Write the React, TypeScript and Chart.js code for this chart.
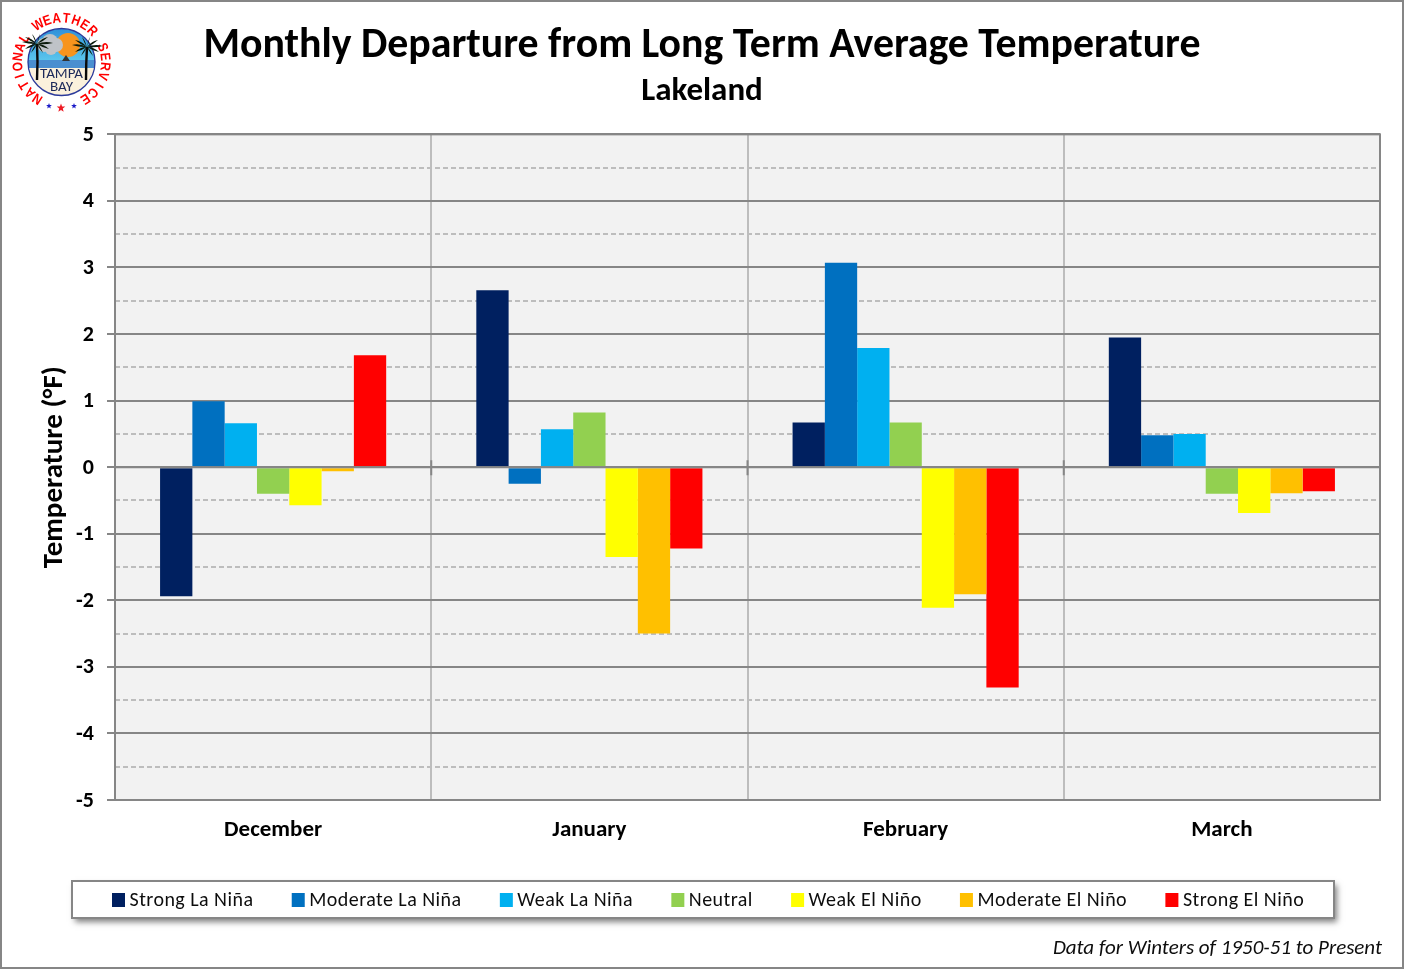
import React, { useEffect, useRef } from "react";
import { Chart, registerables } from "chart.js";

Chart.register(...registerables);

const months = ["December", "January", "February", "March"];
const strongLaNina = [-1.94, 2.66, 0.67, 1.95];
const moderateLaNina = [0.99, -0.25, 3.07, 0.48];
const weakLaNina = [0.66, 0.57, 1.79, 0.5];
const neutral = [-0.4, 0.82, 0.67, -0.4];
const weakElNino = [-0.57, -1.35, -2.11, -0.69];
const moderateElNino = [-0.06, -2.5, -1.91, -0.39];
const strongElNino = [1.68, -1.22, -3.31, -0.36];

const titleText = "Monthly Departure from Long Term Average Temperature";
const subtitleText = "Lakeland";
const yTitleText = "Temperature (°F)";
const footerText = "Data for Winters of 1950-51 to Present";
const logoRing = "NATIONAL WEATHER SERVICE";
const logoLines = ["TAMPA", "BAY"];

const FONT = "Carlito, Lato, sans-serif";
const DARK = "#868686";
const LIGHT = "#BDBDBD";

function palm(ctx: CanvasRenderingContext2D, x: number, y: number, bx: number, by: number, dir: number) {
  ctx.strokeStyle = "#0a0a0a";
  ctx.lineWidth = 2.4;
  ctx.beginPath();
  ctx.moveTo(x, y);
  ctx.quadraticCurveTo(x + dir * 1, (y + by) / 2, bx, by);
  ctx.stroke();
  ctx.fillStyle = "#0a1a0a";
  const fronds = [[-15, -2], [-12, -7], [-5, -10], [3, -10], [11, -7], [16, -1], [-12, 5], [12, 5], [-6, 9], [6, 9]];
  fronds.forEach(([dx, dy]) => {
    ctx.beginPath();
    ctx.moveTo(x, y);
    ctx.quadraticCurveTo(x + dx * 0.5, y + dy * 0.5 - 3, x + dx, y + dy);
    ctx.quadraticCurveTo(x + dx * 0.5, y + dy * 0.5 + 1.5, x, y);
    ctx.fill();
  });
}

function star(ctx: CanvasRenderingContext2D, x: number, y: number, r: number, color: string) {
  ctx.fillStyle = color;
  ctx.beginPath();
  for (let i = 0; i < 10; i++) {
    const a = -Math.PI / 2 + (i * Math.PI) / 5;
    const rr = i % 2 ? r * 0.42 : r;
    ctx.lineTo(x + rr * Math.cos(a), y + rr * Math.sin(a));
  }
  ctx.closePath();
  ctx.fill();
}

function drawLogo(ctx: CanvasRenderingContext2D) {
  const cx = 61.5;
  const cy = 62;
  const r = 33.5;
  ctx.save();

  ctx.save();
  ctx.beginPath();
  ctx.arc(cx, cy, r, 0, Math.PI * 2);
  ctx.clip();
  const sky = ctx.createLinearGradient(0, 28, 0, 62);
  sky.addColorStop(0, "#2F8FD8");
  sky.addColorStop(1, "#5CC8EE");
  ctx.fillStyle = sky;
  ctx.fillRect(cx - r, cy - r, 2 * r, 36);
  ctx.fillStyle = "#4A8FD0";
  ctx.fillRect(cx - r, 60, 2 * r, 8);
  ctx.fillStyle = "#FBF1DC";
  ctx.fillRect(cx - r, 68, 2 * r, 30);
  ctx.fillStyle = "#F7941D";
  ctx.beginPath();
  ctx.arc(68, 45, 12, 0, Math.PI * 2);
  ctx.fill();
  ctx.fillStyle = "#BFC3C8";
  [[44, 45, 7], [50, 42, 8], [56, 45, 7], [51, 49, 6]].forEach(([x, y, rr]) => {
    ctx.beginPath();
    ctx.arc(x, y, rr, 0, Math.PI * 2);
    ctx.fill();
  });
  ctx.fillStyle = "#333";
  ctx.beginPath();
  ctx.moveTo(62, 61);
  ctx.lineTo(66, 55);
  ctx.lineTo(70, 61);
  ctx.fill();
  ctx.restore();

  ctx.strokeStyle = "#2B3A9A";
  ctx.lineWidth = 1.3;
  ctx.beginPath();
  ctx.arc(cx, cy, r, 0, Math.PI * 2);
  ctx.stroke();

  ctx.fillStyle = "#FF0000";
  ctx.font = "bold 14px 'Liberation Sans', sans-serif";
  ctx.textAlign = "center";
  ctx.textBaseline = "alphabetic";
  const n = logoRing.length;
  const span = 294;
  for (let i = 0; i < n; i++) {
    const deg = -147 + (span * i) / (n - 1);
    const a = (deg * Math.PI) / 180;
    ctx.save();
    ctx.translate(cx + 39.5 * Math.sin(a), cy - 39.5 * Math.cos(a));
    ctx.rotate(a);
    ctx.scale(0.85, 1);
    ctx.fillText(logoRing[i], 0, 0);
    ctx.restore();
  }
  star(ctx, 49, 106, 3, "#1C1CC8");
  star(ctx, 61, 108, 4.5, "#EE1C25");
  star(ctx, 74, 106, 3, "#1C1CC8");

  palm(ctx, 37, 44, 37, 80, 1);
  palm(ctx, 87, 47, 86, 80, -1);

  ctx.fillStyle = "#1D2A5A";
  ctx.font = "15px " + FONT;
  ctx.textAlign = "center";
  ctx.textBaseline = "middle";
  ctx.fillText(logoLines[0], 61.5, 74.5);
  ctx.fillText(logoLines[1], 61.5, 87.5);
  ctx.restore();
}

const framePlugin = {
  id: "frame",
  beforeDraw(chart: any) {
    const { ctx, chartArea: a, width, height } = chart;
    ctx.save();
    ctx.fillStyle = "#FFFFFF";
    ctx.fillRect(0, 0, width, height);
    ctx.fillStyle = "#F2F2F2";
    ctx.fillRect(a.left, a.top, a.right - a.left, a.bottom - a.top);
    ctx.restore();
  },
  afterDatasetsDraw(chart: any) {
    const { ctx, chartArea: a, scales, width, height } = chart;
    const zero = scales.y.getPixelForValue(0);
    ctx.save();
    ctx.strokeStyle = DARK;
    ctx.lineWidth = 2;
    ctx.beginPath();
    ctx.moveTo(a.left, zero);
    ctx.lineTo(a.right, zero);
    months.slice(1).forEach((_, i) => {
      const x = (scales.x.getPixelForValue(i) + scales.x.getPixelForValue(i + 1)) / 2;
      ctx.moveTo(x, zero - 7);
      ctx.lineTo(x, zero + 8);
    });
    ctx.stroke();
    ctx.strokeRect(a.left, a.top, a.right - a.left, a.bottom - a.top);

    // legend panel and entries, from the chart's datasets
    const lx = 72, ly = 881, lw = 1262, lh = 37;
    ctx.save();
    ctx.shadowColor = "rgba(0,0,0,0.5)";
    ctx.shadowBlur = 6;
    ctx.shadowOffsetX = 3;
    ctx.shadowOffsetY = 4;
    ctx.fillStyle = "#FFFFFF";
    ctx.fillRect(lx, ly, lw, lh);
    ctx.restore();
    ctx.strokeStyle = DARK;
    ctx.lineWidth = 2;
    ctx.strokeRect(lx, ly, lw, lh);
    ctx.font = "20px " + FONT;
    ctx.textBaseline = "middle";
    ctx.textAlign = "left";
    (ctx as any).letterSpacing = "0.45px";
    let x = 112;
    chart.data.datasets.forEach((d: any) => {
      ctx.fillStyle = d.backgroundColor;
      ctx.fillRect(x, 893, 13, 14);
      ctx.fillStyle = "#0D0D0D";
      ctx.fillText(d.label, x + 17.5, 900.5);
      x += 17.5 + ctx.measureText(d.label).width + 38.3;
    });
    (ctx as any).letterSpacing = "0px";

    ctx.fillStyle = "#0D0D0D";
    ctx.font = "italic 21px " + FONT;
    ctx.textAlign = "right";
    ctx.fillText(footerText, 1382, 949);

    ctx.strokeStyle = DARK;
    ctx.lineWidth = 2;
    ctx.strokeRect(1, 1, width - 2, height - 3);
    drawLogo(ctx);
    ctx.restore();
  },
};

export default function App() {
  const ref = useRef<HTMLCanvasElement | null>(null);
  useEffect(() => {
    if (!ref.current) return;
    const series = [
      ["Strong La Niña", strongLaNina, "#002060"],
      ["Moderate La Niña", moderateLaNina, "#0070C0"],
      ["Weak La Niña", weakLaNina, "#00B0F0"],
      ["Neutral", neutral, "#92D050"],
      ["Weak El Niño", weakElNino, "#FFFF00"],
      ["Moderate El Niño", moderateElNino, "#FFC000"],
      ["Strong El Niño", strongElNino, "#FF0000"],
    ] as const;
    const isMajor = (v: number) => Math.abs(v - Math.round(v)) < 1e-6;
    const chart = new Chart(ref.current, {
      type: "bar",
      data: {
        labels: months,
        datasets: series.map(([label, data, color]) => ({
          label,
          data: [...data],
          backgroundColor: color,
          barPercentage: 1,
          categoryPercentage: 0.715,
        })),
      },
      plugins: [framePlugin],
      options: {
        responsive: false,
        animation: false,
        devicePixelRatio: 1,
        layout: { padding: { top: 23, right: 24, left: 24, bottom: 0 } },
        plugins: {
          legend: { display: false },
          tooltip: { enabled: false },
          title: {
            display: true,
            text: titleText,
            color: "#000000",
            font: { family: FONT, size: 41.8, weight: "bold", lineHeight: 1.15 },
            padding: { top: 0, bottom: 1 },
          },
          subtitle: {
            display: true,
            text: subtitleText,
            color: "#000000",
            font: { family: FONT, size: 33, weight: "bold", lineHeight: 1.2 },
            padding: { top: 0, bottom: 22.7 },
          },
        },
        scales: {
          x: {
            grid: { offset: true, color: LIGHT, lineWidth: 2, drawTicks: false },
            border: { display: false },
            ticks: {
              color: "#000000",
              font: { family: FONT, size: 23, weight: "bold" },
              padding: 16.5,
              autoSkip: false,
              maxRotation: 0,
            },
            afterFit(scale: any) {
              scale.height = 170;
            },
          },
          y: {
            min: -5,
            max: 5,
            title: {
              display: true,
              text: yTitleText,
              color: "#000000",
              font: { family: FONT, size: 29, weight: "bold" },
              padding: { top: 13, bottom: 0 },
            },
            ticks: {
              stepSize: 0.5,
              autoSkip: false,
              color: "#000000",
              font: { family: FONT, size: 22, weight: "bold" },
              padding: 13,
              labelOffset: 1,
              callback: (v: any) => (isMajor(Number(v)) ? String(v) : ""),
            },
            grid: {
              color: (c: any) => (isMajor(c.tick.value) ? DARK : LIGHT),
              lineWidth: 2,
              tickLength: 8,
              tickColor: (c: any) => (isMajor(c.tick.value) ? DARK : "rgba(0,0,0,0)"),
            },
            border: {
              display: false,
              dash: (c: any) => (c.tick && !isMajor(c.tick.value) ? [5, 3] : []),
            },
            afterFit(scale: any) {
              scale.width = 91;
            },
          },
        },
      } as any,
    });
    return () => chart.destroy();
  }, []);
  return (
    <canvas
      ref={ref}
      width={1404}
      height={970}
      style={{ position: "absolute", left: 0, top: 0, width: 1404, height: 970, display: "block" }}
    />
  );
}
